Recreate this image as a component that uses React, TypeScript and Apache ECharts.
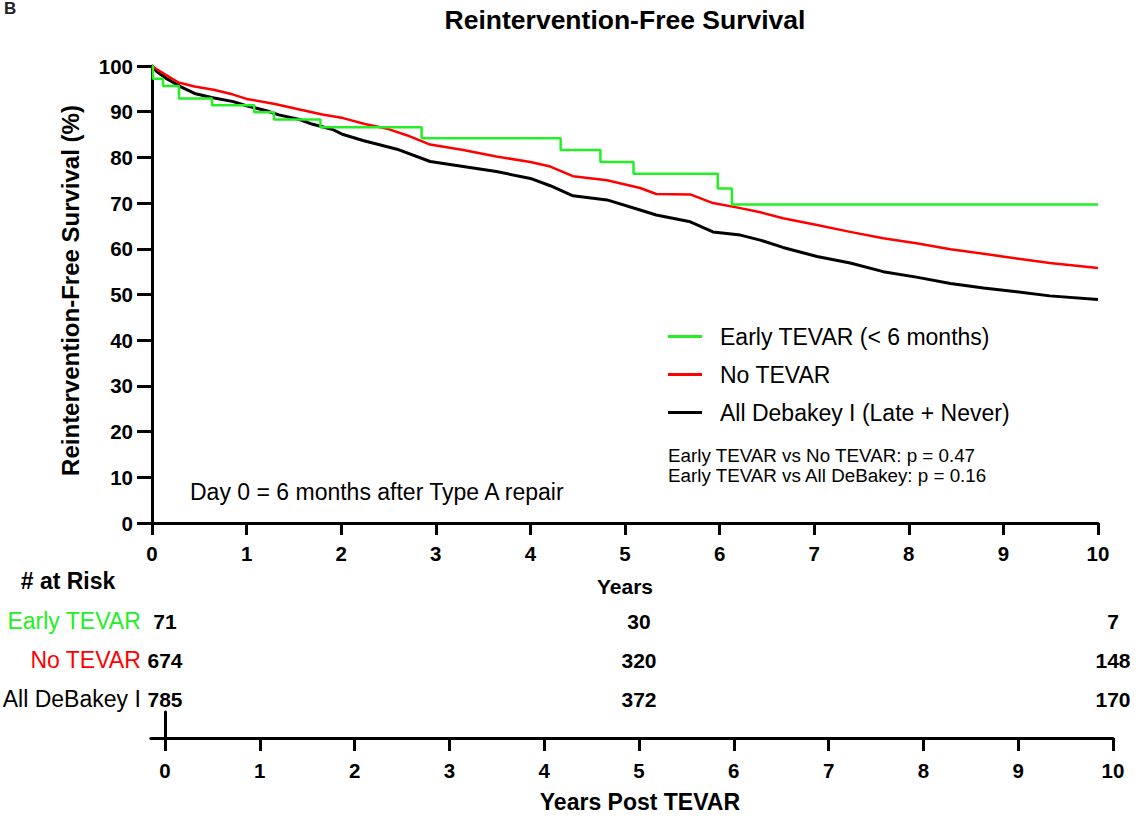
import React, { useEffect, useRef } from "react";
import * as echarts from "echarts";

// ---- Data ----
const earlyTevar: [number, number][] = [
  [0, 100], [0.01, 97.2], [0.116, 95.6], [0.285, 92.9], [0.634, 91.4], [1.08, 89.9],
  [1.29, 88.3], [1.78, 86.6], [2.85, 84.2], [4.32, 81.6], [4.74, 79.0], [5.09, 76.4],
  [5.98, 73.2], [6.13, 69.7], [10, 69.7],
];
const noTevar: [number, number][] = [
  [0, 100], [0.05, 99.3], [0.15, 98.0], [0.28, 96.4], [0.45, 95.5], [0.65, 94.8], [0.85, 93.8],
  [1.0, 92.8], [1.3, 91.7], [1.56, 90.5], [1.8, 89.4], [2.02, 88.6], [2.25, 87.3], [2.5, 86.2],
  [2.7, 84.8], [2.94, 82.8], [3.29, 81.6], [3.64, 80.2], [4.0, 79.0], [4.21, 78.0], [4.45, 75.9],
  [4.81, 75.0], [5.16, 73.3], [5.33, 72.0], [5.69, 71.9], [5.93, 70.0], [6.22, 68.9], [6.43, 68.0],
  [6.67, 66.7], [7.03, 65.2], [7.38, 63.7], [7.73, 62.3], [8.08, 61.2], [8.44, 59.9], [8.79, 58.9],
  [9.14, 57.9], [9.49, 56.9], [10, 55.8],
];
const allDebakey: [number, number][] = [
  [0, 100], [0.05, 98.8], [0.15, 97.3], [0.3, 95.5], [0.45, 94.0], [0.63, 93.1], [0.86, 92.2],
  [0.98, 91.4], [1.21, 90.2], [1.34, 89.3], [1.56, 88.3], [1.69, 87.3], [1.91, 86.1], [2.02, 85.0],
  [2.23, 83.7], [2.59, 81.8], [2.94, 79.1], [3.29, 78.0], [3.64, 76.9], [4.0, 75.4], [4.21, 73.8],
  [4.45, 71.6], [4.81, 70.7], [5.16, 68.5], [5.33, 67.4], [5.69, 65.9], [5.93, 63.7], [6.22, 63.0],
  [6.43, 61.9], [6.67, 60.3], [7.03, 58.3], [7.38, 56.9], [7.73, 55.0], [8.08, 53.8], [8.44, 52.4],
  [8.79, 51.4], [9.14, 50.6], [9.49, 49.7], [10, 48.9],
];

const seriesNames = ["Early TEVAR (< 6 months)", "No TEVAR", "All Debakey I (Late + Never)"];
const yearTicks = [0, 1, 2, 3, 4, 5, 6, 7, 8, 9, 10];

const riskGroups = ["Early TEVAR", "No TEVAR", "All DeBakey I"];
const riskYears = [0, 5, 10];
const riskEarly = [71, 30, 7];
const riskNo = [674, 320, 148];
const riskAll = [785, 372, 170];

const GREEN = "#22f022";
const RED = "#ff0000";
const BLACK = "#000000";
const FONT = "Liberation Sans, Arial, Helvetica, sans-serif";

export default function App() {
  const ref = useRef<HTMLDivElement>(null);

  useEffect(() => {
    if (!ref.current) return;
    const chart = echarts.init(ref.current, null, { renderer: "svg" });

    const riskRows = [riskEarly, riskNo, riskAll];
    const riskData: any[] = [];
    riskRows.forEach((row, gi) => {
      row.forEach((n, yi) => riskData.push([riskYears[yi], riskGroups[gi], n]));
    });
    const groupColor: Record<string, string> = {
      "Early TEVAR": GREEN,
      "No TEVAR": RED,
      "All DeBakey I": BLACK,
    };

    const axisLineStyle = { color: "#000", width: 3 };
    const boldLabel = { color: "#000", fontSize: 20.5, fontWeight: "bold" as const, fontFamily: FONT };

    const option: any = {
      animation: false,
      textStyle: { fontFamily: FONT },
      grid: [
        { left: 152, right: 42, top: 66, bottom: 299, outerBoundsMode: "none" },
        { left: 150.8, right: 27, top: 621, bottom: 84, outerBoundsMode: "none" },
        { left: 150.8, right: 27, top: 712, bottom: 84, outerBoundsMode: "none" },
      ],
      xAxis: [
        {
          gridIndex: 0,
          type: "value",
          min: 0,
          max: 10,
          interval: 1,
          name: "Years",
          nameLocation: "middle",
          nameGap: 53,
          nameTextStyle: { color: "#000", fontSize: 21, fontWeight: "bold", fontFamily: FONT },
          axisLine: { show: true, lineStyle: axisLineStyle },
          axisTick: { show: true, length: 12, lineStyle: { color: "#000", width: 3 } },
          axisLabel: { ...boldLabel, margin: 20 },
          splitLine: { show: false },
        },
        {
          gridIndex: 1,
          type: "value",
          min: -0.15,
          max: 10,
          show: false,
        },
        {
          gridIndex: 2,
          type: "value",
          min: -0.15,
          max: 10,
          name: "Years Post TEVAR",
          nameLocation: "middle",
          nameGap: 52,
          nameTextStyle: {
            color: "#000",
            fontSize: 23,
            fontWeight: "bold",
            fontFamily: FONT,
            padding: [0, 0, 0, 16],
          },
          axisLine: { show: true, onZero: true, lineStyle: axisLineStyle },
          axisTick: { show: true, length: 13, customValues: yearTicks, lineStyle: { color: "#000", width: 3 } },
          axisLabel: { ...boldLabel, margin: 22, customValues: yearTicks },
          splitLine: { show: false },
        },
      ],
      yAxis: [
        {
          gridIndex: 0,
          type: "value",
          min: 0,
          max: 100,
          interval: 10,
          name: "Reintervention-Free Survival (%)",
          nameLocation: "middle",
          nameGap: 70,
          nameTextStyle: { color: "#000", fontSize: 24, fontWeight: "bold", fontFamily: FONT, padding: [0, 0, 0, 8] },
          axisLine: { show: true, lineStyle: axisLineStyle },
          axisTick: { show: true, length: 15, lineStyle: { color: "#000", width: 3 } },
          axisLabel: { ...boldLabel, margin: 19 },
          splitLine: { show: false },
        },
        {
          gridIndex: 1,
          type: "category",
          boundaryGap: false,
          data: ["", riskGroups[2], riskGroups[1], riskGroups[0]],
          axisLine: { show: false },
          axisTick: { show: false },
          splitLine: { show: false },
          axisLabel: {
            show: true,
            margin: 10,
            fontSize: 23,
            fontFamily: FONT,
            color: (v: string) => groupColor[v] || "#000",
          },
        },
        {
          gridIndex: 2,
          type: "value",
          min: 0,
          max: 1,
          axisLine: { show: true, onZero: true, lineStyle: axisLineStyle },
          axisTick: { show: false },
          axisLabel: { show: false },
          splitLine: { show: false },
        },
      ],
      legend: {
        data: seriesNames,
        orient: "vertical",
        left: 668,
        top: 325,
        padding: 0,
        icon: "rect",
        itemWidth: 34,
        itemHeight: 3,
        itemGap: 15,
        textStyle: { color: "#000", fontSize: 23, fontFamily: FONT, padding: [0, 0, 0, 13] },
      },
      series: [
        {
          name: seriesNames[2],
          type: "line",
          xAxisIndex: 0,
          yAxisIndex: 0,
          data: allDebakey,
          showSymbol: false,
          symbol: "none",
          lineStyle: { color: BLACK, width: 3 },
          itemStyle: { color: BLACK },
        },
        {
          name: seriesNames[1],
          type: "line",
          xAxisIndex: 0,
          yAxisIndex: 0,
          data: noTevar,
          showSymbol: false,
          symbol: "none",
          lineStyle: { color: RED, width: 2.5 },
          itemStyle: { color: RED },
        },
        {
          name: seriesNames[0],
          type: "line",
          xAxisIndex: 0,
          yAxisIndex: 0,
          data: earlyTevar,
          step: "end",
          showSymbol: false,
          symbol: "none",
          lineStyle: { color: GREEN, width: 2.5 },
          itemStyle: { color: GREEN },
        },
        {
          name: "risk",
          type: "scatter",
          xAxisIndex: 1,
          yAxisIndex: 1,
          data: riskData,
          symbolSize: 1,
          itemStyle: { color: "rgba(0,0,0,0)", opacity: 1 },
          label: {
            show: true,
            position: "inside",
            formatter: (p: any) => String(p.value[2]),
            color: "#000",
            opacity: 1,
            fontSize: 21,
            fontWeight: "bold",
            fontFamily: FONT,
          },
          silent: true,
        },
      ],
      graphic: [
        {
          type: "text",
          left: 4,
          top: 0,
          style: { text: "B", fontSize: 17, fontWeight: "bold", fill: "#222", fontFamily: FONT },
        },
        {
          type: "text",
          x: 625,
          y: 20,
          style: {
            text: "Reintervention-Free Survival",
            fontSize: 26.5,
            fontWeight: "bold",
            fill: "#000",
            fontFamily: FONT,
            textAlign: "center",
            textVerticalAlign: "middle",
          },
        },
        {
          type: "text",
          x: 190,
          y: 492,
          style: {
            text: "Day 0 = 6 months after Type A repair",
            fontSize: 23,
            fill: "#000",
            fontFamily: FONT,
            textAlign: "left",
            textVerticalAlign: "middle",
          },
        },
        {
          type: "text",
          x: 668,
          y: 455,
          style: {
            text: "Early TEVAR vs No TEVAR: p = 0.47",
            fontSize: 18.8,
            fill: "#000",
            fontFamily: FONT,
            textAlign: "left",
            textVerticalAlign: "middle",
          },
        },
        {
          type: "text",
          x: 668,
          y: 475,
          style: {
            text: "Early TEVAR vs All DeBakey: p = 0.16",
            fontSize: 18.8,
            fill: "#000",
            fontFamily: FONT,
            textAlign: "left",
            textVerticalAlign: "middle",
          },
        },
        {
          type: "text",
          x: 68,
          y: 581,
          style: {
            text: "# at Risk",
            fontSize: 23,
            fontWeight: "bold",
            fill: "#000",
            fontFamily: FONT,
            textAlign: "center",
            textVerticalAlign: "middle",
          },
        },
      ],
    };

    chart.setOption(option);
    return () => chart.dispose();
  }, []);

  return (
    <div
      ref={ref}
      style={{ position: "absolute", left: 0, top: 0, width: 1140, height: 822, background: "#fff" }}
    />
  );
}
